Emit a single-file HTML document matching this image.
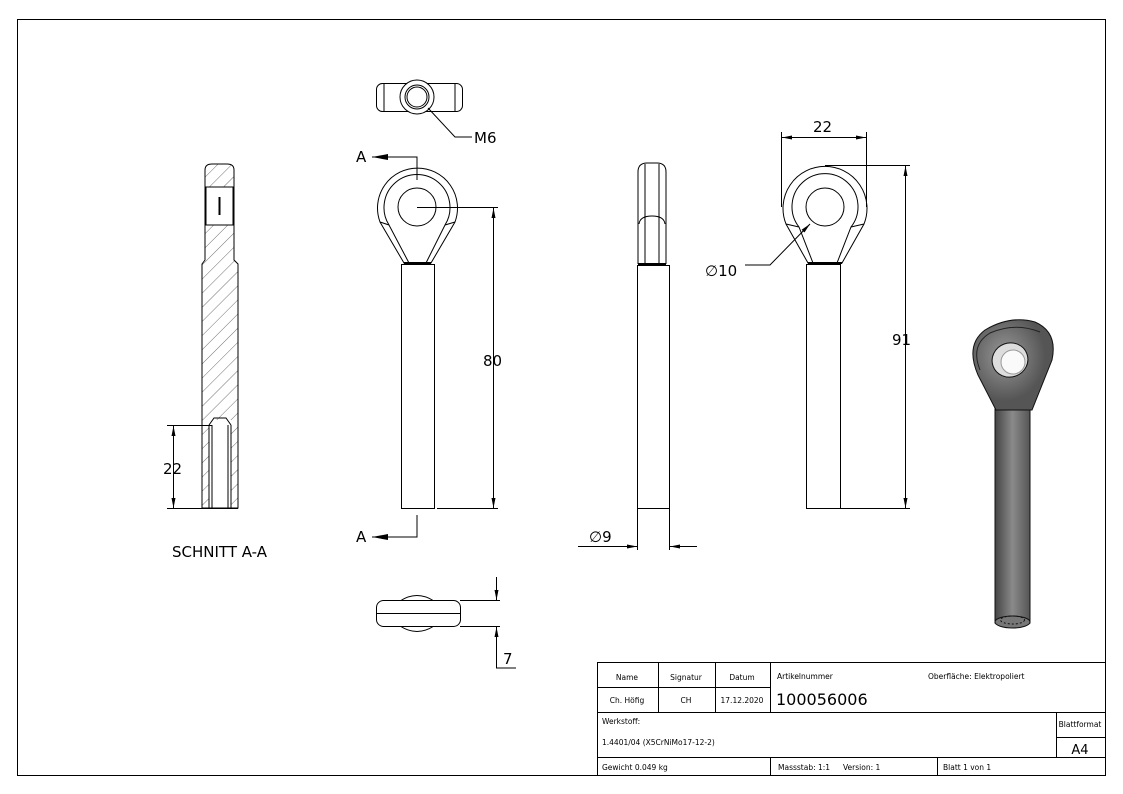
<!DOCTYPE html>
<html><head><meta charset="utf-8"><style>
html,body{margin:0;padding:0;background:#fff;}
svg{display:block;font-family:"DejaVu Sans","Liberation Sans",sans-serif;}
</style></head><body>
<svg width="1123" height="794" viewBox="0 0 1123 794" xmlns="http://www.w3.org/2000/svg">
<defs>
<pattern id="h" width="10" height="10" patternUnits="userSpaceOnUse" patternTransform="rotate(45)">
<line x1="0" y1="0" x2="0" y2="10" stroke="#333" stroke-width="0.7"/></pattern>
<linearGradient id="g" x1="0" x2="1"><stop offset="0" stop-color="#444"/><stop offset="0.5" stop-color="#8a8a8a"/><stop offset="1" stop-color="#555"/></linearGradient>
<radialGradient id="g2" cx="0.4" cy="0.4"><stop offset="0" stop-color="#999"/><stop offset="1" stop-color="#555"/></radialGradient>
<marker id="ar" viewBox="0 0 10 4" refX="10" refY="2" markerWidth="10" markerHeight="4" orient="auto-start-reverse" markerUnits="userSpaceOnUse"><path d="M0,0 L10,2 L0,4z" fill="#000"/></marker>
<marker id="ab" viewBox="0 0 16 6" refX="16" refY="3" markerWidth="16" markerHeight="6" orient="auto" markerUnits="userSpaceOnUse"><path d="M0,0 L16,3 L0,6z" fill="#000"/></marker>
</defs>
<g fill="none" stroke="#000" stroke-width="1">
<rect x="17.5" y="19.5" width="1088" height="756"/>
<!-- title block -->
<rect x="597.5" y="662.5" width="508" height="113"/>
<line x1="597" y1="687.5" x2="770" y2="687.5"/>
<line x1="597" y1="712.5" x2="1105" y2="712.5"/>
<line x1="1056" y1="737.5" x2="1105" y2="737.5"/>
<line x1="597" y1="757.5" x2="1105" y2="757.5"/>
<line x1="658.5" y1="662" x2="658.5" y2="712"/>
<line x1="715.5" y1="662" x2="715.5" y2="712"/>
<line x1="770.5" y1="662" x2="770.5" y2="712"/>
<line x1="1056.5" y1="712" x2="1056.5" y2="757"/>
<line x1="770.5" y1="757" x2="770.5" y2="775"/>
<line x1="937.5" y1="757" x2="937.5" y2="775"/>

<!-- section view -->
<path d="M205,260 L205,170 Q205,164 212,164 L227,164 Q234,164 234,170 L234,260 L238,264 L238,508 L202,508 L202,264 Z" fill="url(#h)" stroke="none"/>
<rect x="206" y="187" width="27" height="38" fill="#fff" stroke="#000"/>
<rect x="209" y="420" width="22" height="88" fill="#fff" stroke="none"/>
<path d="M205,260 L205,170 Q205,164 212,164 L227,164 Q234,164 234,170 L234,260 L238,264 L238,508 L202,508 L202,264 Z"/>
<line x1="219.5" y1="197" x2="219.5" y2="215" stroke-width="2"/>
<path d="M209,425 L209,508 M231,425 L231,508 M212,425 L212,508 M228,425 L228,508 M209,425 L214,418 L226,418 L231,425"/>
<line x1="167" y1="425.5" x2="212" y2="425.5"/>
<line x1="167" y1="508.5" x2="238" y2="508.5"/>
<line x1="173.5" y1="426" x2="173.5" y2="508" marker-start="url(#ar)" marker-end="url(#ar)"/>

<!-- top view -->
<rect x="376.5" y="83.5" width="86" height="28" rx="6"/>
<line x1="384" y1="84" x2="384" y2="111"/><line x1="455" y1="84" x2="455" y2="111"/>
<circle cx="417" cy="97" r="17" fill="#fff"/>
<circle cx="417" cy="97" r="12"/><circle cx="417" cy="97" r="10"/>
<polyline points="428,108 455,137 472,137"/>

<!-- front view -->
<path d="M404,263 L380,222 A40,40 0 1 1 455,222 L431,263 Z" fill="#fff"/>
<path d="M409,263 L389,225 A33,33 0 1 1 445,225 L426,263"/>
<circle cx="417" cy="207" r="19"/>
<line x1="380" y1="222" x2="389" y2="225"/><line x1="455" y1="222" x2="445" y2="225"/>
<line x1="404" y1="263" x2="431" y2="263" stroke-width="2"/>
<rect x="401.5" y="264.5" width="33" height="244"/>
<line x1="417" y1="207.5" x2="498" y2="207.5"/>
<line x1="437" y1="508.5" x2="498" y2="508.5"/>
<line x1="493.5" y1="208" x2="493.5" y2="508" marker-start="url(#ar)" marker-end="url(#ar)"/>
<polyline points="417,180 417,157 372,157" marker-end="url(#ab)"/>
<polyline points="417,515 417,537 372,537" marker-end="url(#ab)"/>

<!-- bottom view -->
<path d="M400,601 Q417,590 434,601 M400,626 Q417,637 434,626"/>
<rect x="376.5" y="600.5" width="84" height="26" rx="7" fill="#fff"/>
<line x1="377" y1="613.5" x2="460" y2="613.5"/>
<line x1="460" y1="600.5" x2="500" y2="600.5"/>
<line x1="460" y1="626.5" x2="500" y2="626.5"/>
<line x1="496.5" y1="577" x2="496.5" y2="600" marker-end="url(#ar)"/>
<polyline points="516,668 496.5,668 496.5,627" marker-end="url(#ar)"/>

<!-- side view -->
<path d="M638,264 L638,172 Q638,163 647,163 L657,163 Q666,163 666,172 L666,264"/>
<line x1="645" y1="164" x2="645" y2="264"/><line x1="659" y1="164" x2="659" y2="264"/>
<path d="M639,224 Q640,216 652,216 Q664,216 665,224"/>
<line x1="638" y1="264" x2="666" y2="264" stroke-width="2"/>
<rect x="637.5" y="265.5" width="32" height="243"/>
<line x1="637.5" y1="509" x2="637.5" y2="550"/><line x1="669.5" y1="509" x2="669.5" y2="550"/>
<line x1="578" y1="546.5" x2="637" y2="546.5" marker-end="url(#ar)"/>
<line x1="697" y1="546.5" x2="670" y2="546.5" marker-end="url(#ar)"/>

<!-- right view -->
<path d="M808,263 L786,224 A42,42 0 1 1 864,224 L842,263 Z" fill="#fff"/>
<path d="M813,263 L799,227 A33,33 0 1 1 851,227 L837,263"/>
<circle cx="825" cy="207" r="19"/>
<line x1="786" y1="224" x2="799" y2="227"/><line x1="864" y1="224" x2="851" y2="227"/>
<line x1="808" y1="263" x2="842" y2="263" stroke-width="2"/>
<rect x="806.5" y="264.5" width="34" height="244"/>
<line x1="781.5" y1="132" x2="781.5" y2="207"/><line x1="866.5" y1="132" x2="866.5" y2="207"/>
<line x1="782" y1="137.5" x2="866" y2="137.5" marker-start="url(#ar)" marker-end="url(#ar)"/>
<line x1="825" y1="165.5" x2="910" y2="165.5"/>
<line x1="841" y1="508.5" x2="910" y2="508.5"/>
<line x1="905.5" y1="166" x2="905.5" y2="508" marker-start="url(#ar)" marker-end="url(#ar)"/>
<polyline points="745,265 770,265 810,224" marker-end="url(#ar)"/>
</g>

<!-- 3D view -->
<g stroke="#111" stroke-width="1">
<rect x="995" y="405" width="35" height="218" fill="url(#g)"/>
<ellipse cx="1012.5" cy="622" rx="17.5" ry="6" fill="#777"/>
<ellipse cx="1012.5" cy="620" rx="12" ry="4" fill="none" stroke-dasharray="2,2"/>
<path d="M996,410 L978,375 Q965,345 985,330 Q1010,315 1035,322 Q1058,332 1052,360 L1032,410 Z" fill="url(#g2)"/>
<path d="M980,370 Q970,345 990,333 Q1015,322 1040,332" fill="none" stroke="#222"/>
<ellipse cx="1010" cy="360" rx="18" ry="17" fill="#ddd" transform="rotate(-20 1010 360)"/>
<ellipse cx="1013" cy="362" rx="12" ry="12" fill="#fafafa" stroke="#999"/>
</g>

<g font-size="15" fill="#000">
<text x="474" y="143">M6</text>
<text x="356" y="162">A</text>
<text x="356" y="542">A</text>
<text x="483" y="366">80</text>
<text x="163" y="474">22</text>
<text x="172" y="557">SCHNITT A-A</text>
<text x="503" y="664">7</text>
<text x="589" y="542">∅9</text>
<text x="705" y="276">∅10</text>
<text x="813" y="132">22</text>
<text x="892" y="345">91</text>
</g>
<g font-size="7.5" fill="#000">
<text x="627" y="680" text-anchor="middle">Name</text>
<text x="686" y="680" text-anchor="middle">Signatur</text>
<text x="742" y="680" text-anchor="middle">Datum</text>
<text x="777" y="679">Artikelnummer</text>
<text x="928" y="679">Oberfläche:  Elektropoliert</text>
<text x="627" y="703" text-anchor="middle">Ch. Höfig</text>
<text x="686" y="703" text-anchor="middle">CH</text>
<text x="742" y="703" text-anchor="middle">17.12.2020</text>
<text x="602" y="724">Werkstoff:</text>
<text x="602" y="745">1.4401/04 (X5CrNiMo17-12-2)</text>
<text x="1080" y="727" text-anchor="middle">Blattformat</text>
<text x="602" y="770">Gewicht 0.049 kg</text>
<text x="778" y="770">Massstab: 1:1</text>
<text x="843" y="770">Version: 1</text>
<text x="943" y="770">Blatt 1 von 1</text>
</g>
<text x="776" y="705" font-size="16">100056006</text>
<text x="1080" y="754" font-size="13" text-anchor="middle">A4</text>
</svg>
</body></html>
